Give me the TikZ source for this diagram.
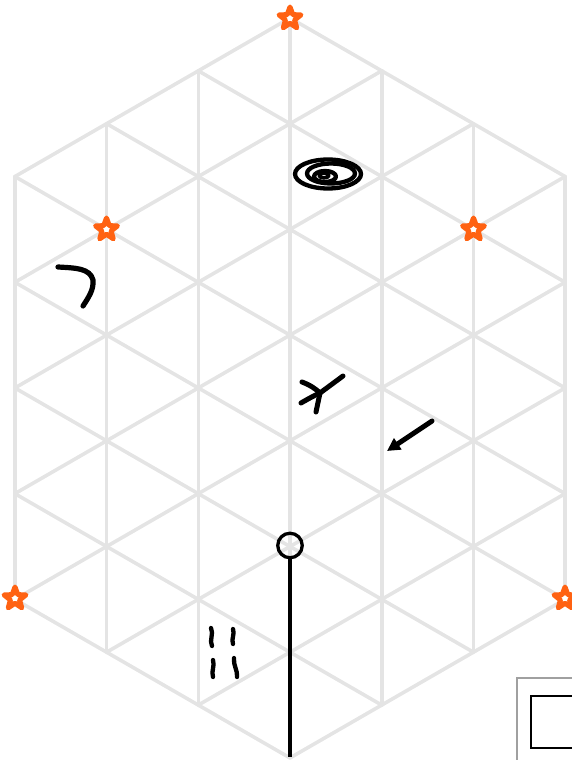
\documentclass[tikz,border=0pt]{standalone}
\usetikzlibrary{shapes.geometric,arrows.meta}
\definecolor{gridgray}{RGB}{228,228,228}
\definecolor{starorange}{RGB}{255,98,18}
\definecolor{boxgray}{RGB}{160,160,160}
\tikzset{
  gridline/.style={draw=gridgray,line width=3.6pt,line cap=round},
  starmark/.style={star,star points=5,star point ratio=2.4,draw=starorange,fill=white,
    line width=5pt,line join=round,minimum size=23pt,inner sep=0pt},
  ink/.style={draw=black,line width=5pt,line cap=round,line join=round},
  pin/.style={circle,draw=black,line width=3.3pt,minimum size=24.5pt,inner sep=0pt},
}
\begin{document}
\begin{tikzpicture}[x=1pt,y=-1pt]
\useasboundingbox (0,0) rectangle (571,760);
% triangular grid inside the hexagon
\foreach \u in {-3,...,3}{
  \pgfmathsetmacro\a{abs(\u)}
  \draw[gridline] ({290+91.7*\u},{18+52.85*\a}) -- ({290+91.7*\u},{18+52.85*(14-\a)});
}
\foreach \c in {0,2,...,14}{
  \pgfmathsetmacro\ua{max(-3,-\c/2)}
  \pgfmathsetmacro\ub{min(3,(14-\c)/2)}
  \draw[gridline] ({290+91.7*\ua},{18+52.85*(\ua+\c)}) -- ({290+91.7*\ub},{18+52.85*(\ub+\c)});
  \pgfmathsetmacro\va{max(-3,-(14-\c)/2)}
  \pgfmathsetmacro\vb{min(3,\c/2)}
  \draw[gridline] ({290+91.7*\va},{18+52.85*(\c-\va)}) -- ({290+91.7*\vb},{18+52.85*(\c-\vb)});
}
% stars
\node[starmark] (s1) at (290,18.5) {};
\node[starmark] (s2) at (106.5,229.5) {};
\node[starmark] (s3) at (473.5,229.5) {};
\node[starmark] (s4) at (15,598.5) {};
\node[starmark] (s5) at (565,598.5) {};
% spiral scribble
\draw[ink,line width=4.3pt] (328,174) ellipse [x radius=33, y radius=14.5];
\draw[ink,line width=4.3pt] (331,173.5) ellipse [x radius=24, y radius=10];
\draw[ink,line width=4.3pt] (325,176.5) ellipse [x radius=11, y radius=5.5];
\draw[ink,line width=3.5pt] (324,175.5) ellipse [x radius=5, y radius=2.4];
% hook
\draw[ink,line width=5.2pt] (58,267) .. controls (75,268) and (90,268) .. (93,280) .. controls (94,290) and (88,298) .. (83,306);
% bird foot
\draw[ink] (343,376) -- (320,393);
\draw[ink] (302,382) .. controls (310,385) and (316,389) .. (320,393);
\draw[ink] (301,403) .. controls (308,399) and (315,395) .. (320,393);
\draw[ink] (320,393) -- (316,412);
% arrow
\coordinate (aS) at (432,421);
\coordinate (aE) at (387,451);
\draw[ink,-{Triangle[length=13pt,width=13pt]}] (aS) -- (aE);
% rain marks
\draw[ink,line width=4.3pt] (211,628) .. controls (214,634) and (209,640) .. (212,646);
\draw[ink,line width=4.3pt] (233,629) .. controls (235,634) and (231,639) .. (233,644);
\draw[ink,line width=4.3pt] (213,660) .. controls (215,666) and (211,671) .. (213,677);
\draw[ink,line width=4.3pt] (234,658) .. controls (233,665) and (238,671) .. (237,677);
% pin with stem
\node[pin] (p) at (290,545.5) {};
\coordinate (pEnd) at (290,757);
\draw[black,line width=3.3pt] (p.south) -- (pEnd);
% corner boxes
\draw[boxgray,line width=2.2pt] (517,678) rectangle (590,780);
\draw[black,line width=2.2pt] (531,696) rectangle (590,748);
\end{tikzpicture}
\end{document}
